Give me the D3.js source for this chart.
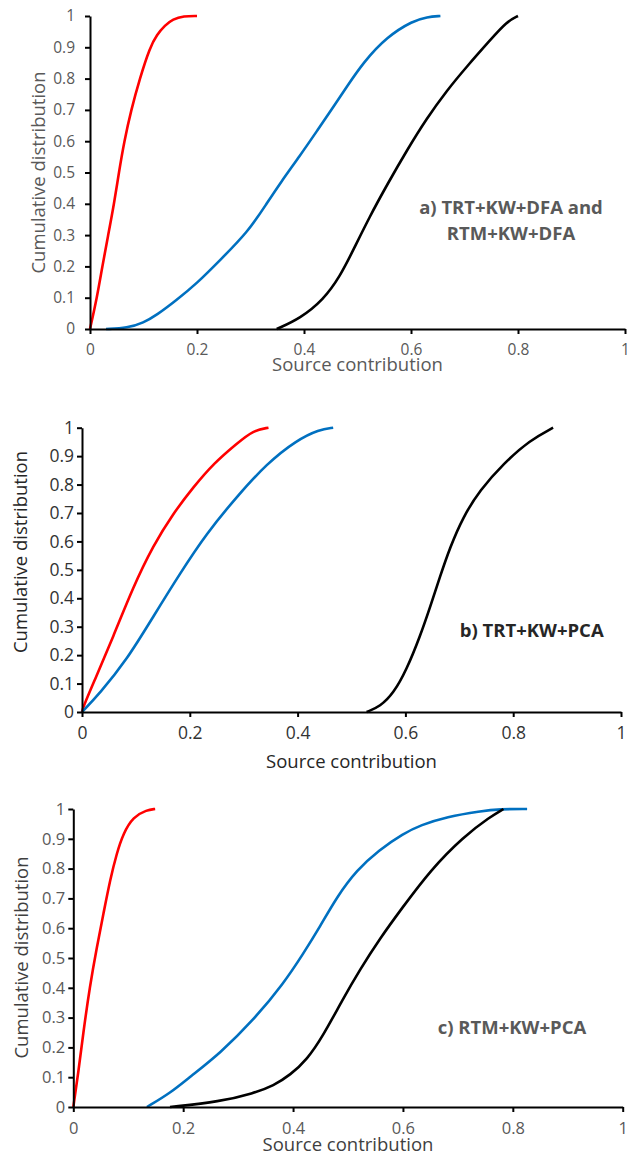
<!DOCTYPE html>
<html>
<head>
<meta charset="utf-8">
<script src="https://cdn.jsdelivr.net/npm/d3@7"></script>
<style>
  body { margin: 0; background: #fff; }
  svg { display: block; font-family: "Open Sans", sans-serif; }
  .axis path, .axis line { stroke: #000; stroke-width: 2; }
</style>
</head>
<body>
<div id="chart"></div>
<script>
// tick values shared by all three panels
var xTicks = [0, 0.2, 0.4, 0.6, 0.8, 1];
var yTicks = [0, 0.1, 0.2, 0.3, 0.4, 0.5, 0.6, 0.7, 0.8, 0.9, 1];

// series: [source contribution, cumulative distribution]
// a) TRT+KW+DFA and RTM+KW+DFA
var aRed = [[0,0],[0.013,0.1],[0.023,0.2],[0.034,0.3],[0.045,0.4],[0.054,0.5],[0.064,0.6],
            [0.077,0.7],[0.093,0.8],[0.112,0.9],[0.125,0.94],[0.14,0.97],[0.155,0.99],[0.175,1],[0.2,1]];
var aBlue = [[0.03,0],[0.07,0.003],[0.1,0.02],[0.125,0.045],[0.16,0.09],[0.2,0.146],[0.243,0.22],
             [0.295,0.31],[0.33,0.40],[0.355,0.465],[0.393,0.555],[0.424,0.632],[0.455,0.71],
             [0.48,0.774],[0.511,0.852],[0.555,0.934],[0.604,0.985],[0.63,0.997],[0.655,1]];
var aBlack = [[0.349,0],[0.393,0.034],[0.436,0.093],[0.467,0.167],[0.492,0.252],[0.523,0.36],
              [0.555,0.46],[0.592,0.57],[0.629,0.672],[0.667,0.762],[0.704,0.838],[0.748,0.923],
              [0.779,0.982],[0.8,1]];

// b) TRT+KW+PCA
var bRed = [[0,0],[0.0025,0.019],[0.021,0.101],[0.058,0.265],[0.095,0.44],[0.132,0.585],[0.169,0.698],
            [0.207,0.792],[0.244,0.874],[0.287,0.944],[0.318,0.991],[0.346,1]];
var bBlue = [[0,0],[0.033,0.066],[0.083,0.183],[0.132,0.335],[0.182,0.488],[0.231,0.628],[0.287,0.757],
             [0.343,0.874],[0.398,0.956],[0.44,0.994],[0.466,1]];
var bBlack = [[0.528,0],[0.553,0.019],[0.578,0.066],[0.602,0.148],[0.627,0.265],[0.646,0.37],[0.664,0.475],
              [0.683,0.58],[0.707,0.686],[0.738,0.78],[0.782,0.874],[0.831,0.956],[0.874,1]];

// c) RTM+KW+PCA
var cRed = [[0,0],[0.009,0.113],[0.018,0.247],[0.03,0.404],[0.043,0.538],[0.055,0.65],[0.067,0.762],
            [0.079,0.851],[0.091,0.918],[0.109,0.974],[0.134,0.997],[0.149,1]];
var cBlue = [[0.134,0],[0.176,0.046],[0.213,0.102],[0.267,0.18],[0.328,0.292],[0.383,0.415],[0.419,0.516],
             [0.449,0.605],[0.48,0.706],[0.516,0.795],[0.556,0.862],[0.601,0.918],[0.632,0.946],
             [0.68,0.974],[0.741,0.993],[0.777,1],[0.826,1]];
var cBlack = [[0.176,0],[0.267,0.018],[0.328,0.046],[0.365,0.072],[0.395,0.108],[0.425,0.158],
              [0.455,0.24],[0.49,0.36],[0.522,0.462],[0.559,0.568],[0.597,0.664],[0.65,0.795],
              [0.71,0.907],[0.759,0.974],[0.783,1]];

var labelA = ["a) TRT+KW+DFA and", "RTM+KW+DFA"];
var labelB = ["b) TRT+KW+PCA"];
var labelC = ["c) RTM+KW+PCA"];

var colors = { red: "#ff0000", blue: "#0070c0", black: "#000000" };

// layout of each panel (pixels)
var panels = [
  { series: [aRed, aBlue, aBlack], label: labelA,
    left: 90, right: 625, top: 16, bottom: 329,
    tickFont: 15.5, tickColor: "#595959", yPad: 10, titleColor: "#595959",
    xTitleY: 371, yTitleX: 38, yTitleY: 172.5,
    labelX: 511, labelY: 214, labelColor: "#595959" },
  { series: [bRed, bBlue, bBlack], label: labelB,
    left: 82, right: 621, top: 427.7, bottom: 712,
    tickFont: 17.5, tickColor: "#333333", yPad: 3, titleColor: "#262626",
    xTitleY: 768, yTitleX: 20, yTitleY: 552,
    labelX: 531.7, labelY: 637, labelColor: "#262626" },
  { series: [cRed, cBlue, cBlack], label: labelC,
    left: 73.3, right: 622.7, top: 809, bottom: 1107,
    tickFont: 16.5, tickColor: "#595959", yPad: 3, titleColor: "#3f3f3f",
    xTitleY: 1151, yTitleX: 21.5, yTitleY: 957.5,
    labelX: 512, labelY: 1034, labelColor: "#595959" }
];

var svg = d3.select("#chart").append("svg")
    .attr("width", 627)
    .attr("height", 1155);

var fmt = d3.format("~g");
var seriesColors = [colors.red, colors.blue, colors.black];

panels.forEach(function(p) {
    var x = d3.scaleLinear().domain([0, 1]).range([p.left, p.right]);
    var y = d3.scaleLinear().domain([0, 1]).range([p.bottom, p.top]);

    var line = d3.line()
        .x(function(d) { return x(d[0]); })
        .y(function(d) { return y(d[1]); })
        .curve(d3.curveBasis);

    p.series.forEach(function(s, i) {
        svg.append("path")
            .datum(s)
            .attr("fill", "none")
            .attr("stroke", seriesColors[i])
            .attr("stroke-width", 2.6)
            .attr("stroke-linejoin", "round")
            .attr("d", line);
    });

    var gx = svg.append("g")
        .attr("class", "axis")
        .attr("transform", "translate(0," + p.bottom + ")")
        .call(d3.axisBottom(x).tickValues(xTicks).tickFormat(fmt)
              .tickSize(5).tickSizeOuter(0).tickPadding(10));

    var gy = svg.append("g")
        .attr("class", "axis")
        .attr("transform", "translate(" + p.left + ",0)")
        .call(d3.axisLeft(y).tickValues(yTicks).tickFormat(fmt)
              .tickSize(5).tickSizeOuter(0).tickPadding(p.yPad));

    [gx, gy].forEach(function(g) {
        g.selectAll("text")
            .attr("fill", p.tickColor)
            .style("font-size", p.tickFont + "px")
            .style("font-family", "'Open Sans', sans-serif");
    });

    svg.append("text")
        .attr("x", (p.left + p.right) / 2)
        .attr("y", p.xTitleY)
        .attr("text-anchor", "middle")
        .attr("fill", p.titleColor)
        .style("font-size", "18.5px")
        .text("Source contribution");

    svg.append("text")
        .attr("transform", "translate(" + p.yTitleX + "," + p.yTitleY + ") rotate(-90)")
        .attr("text-anchor", "middle")
        .attr("dy", "0.36em")
        .attr("fill", p.titleColor)
        .style("font-size", "18.5px")
        .text("Cumulative distribution");

    p.label.forEach(function(t, i) {
        svg.append("text")
            .attr("x", p.labelX)
            .attr("y", p.labelY + i * 26)
            .attr("text-anchor", "middle")
            .attr("fill", p.labelColor)
            .style("font-size", "18.5px")
            .style("font-weight", "bold")
            .text(t);
    });
});
</script>
</body>
</html>
